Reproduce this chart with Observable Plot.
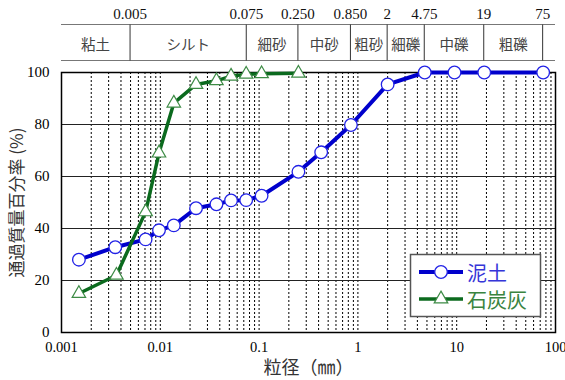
<!DOCTYPE html>
<html><head><meta charset="utf-8">
<script src="https://cdn.jsdelivr.net/npm/d3@7"></script>
<script src="https://cdn.jsdelivr.net/npm/@observablehq/plot@0.6"></script>
<style>body{margin:0;background:#fff}</style>
</head><body><div id="chart"></div>
<script>
// ---- data ----
const seriesNames = ["泥土", "石炭灰"];
const clayX = [0.0015, 0.0035, 0.0071, 0.0097, 0.0137, 0.023, 0.037, 0.052, 0.074, 0.106, 0.25, 0.425, 0.85, 2, 4.75, 9.5, 19, 75];
const clayY = [28, 32.8, 35.8, 39.3, 41.2, 47.8, 49.3, 50.8, 50.9, 52.6, 61.8, 69.3, 79.8, 95.4, 100, 100, 100, 100];
const ashX = [0.0015, 0.0036, 0.0071, 0.0097, 0.0137, 0.023, 0.037, 0.052, 0.074, 0.106, 0.25];
const ashY = [15, 22, 46.4, 69, 88.2, 95.4, 96.8, 98.6, 99.3, 99.5, 99.7];
const zoneBounds = [0.005, 0.075, 0.25, 0.85, 2, 4.75, 19, 75];
const zoneBoundLabels = ["0.005", "0.075", "0.250", "0.850", "2", "4.75", "19", "75"];
const zoneNames = ["粘土", "シルト", "細砂", "中砂", "粗砂", "細礫", "中礫", "粗礫"];
const xTicks = [0.001, 0.01, 0.1, 1, 10, 100];
const xTickLabels = ["0.001", "0.01", "0.1", "1", "10", "100"];
const yTicks = [0, 20, 40, 60, 80, 100];
const xTitle = "粒径（㎜）";
const yTitle = "通過質量百分率 (%)";

// ---- derived ----
const clay = clayX.map((x, i) => ({x, y: clayY[i]}));
const ash = ashX.map((x, i) => ({x, y: ashY[i]}));
const minor = [];
for (let e = -3; e <= 1; e++) for (let k = 1; k <= 9; k++) {
  if (e === -3 && k === 1) continue;
  minor.push(+(k * Math.pow(10, e)).toPrecision(3));
}
const serif = "'Liberation Serif', 'Times New Roman', serif";
const cjk = "'Noto Sans CJK JP', sans-serif";
const blue = "#0000cc", blueMark = "#2222e6", blueText = "#3535d8";
const green = "#0b6a1e", greenMark = "#3d8b45", greenText = "#3a843f";

const header = (index, scales, values, dims) => {
  const g = d3.create("svg:g");
  const x0 = dims.marginLeft, x1 = dims.width - dims.marginRight;
  const yTop = 24.5, yBot = 60.5;
  g.append("line").attr("x1", x0).attr("x2", x1).attr("y1", yTop).attr("y2", yTop).attr("stroke", "#777").attr("stroke-width", 1.2);
  g.append("line").attr("x1", x0).attr("x2", x1).attr("y1", yBot).attr("y2", yBot).attr("stroke", "#777").attr("stroke-width", 1.2);
  const bx = zoneBounds.map(v => scales.x(v));
  bx.forEach((px, i) => {
    g.append("line").attr("x1", px).attr("x2", px).attr("y1", yTop).attr("y2", yBot).attr("stroke", "#333").attr("stroke-width", 1);
    g.append("text").attr("x", px).attr("y", 14).attr("text-anchor", "middle").attr("dominant-baseline", "central")
      .style("font-family", serif).attr("font-size", 15).attr("fill", "#111").text(zoneBoundLabels[i]);
  });
  const edges = [x0, ...bx];
  zoneNames.forEach((n, i) => {
    g.append("text").attr("x", (edges[i] + edges[i + 1]) / 2).attr("y", 43).attr("text-anchor", "middle")
      .attr("dominant-baseline", "central").style("font-family", cjk).attr("font-size", 14.5).attr("fill", "#444").text(n);
  });
  return g.node();
};

const legend = () => {
  const g = d3.create("svg:g");
  g.append("rect").attr("x", 410.5).attr("y", 254.5).attr("width", 130).attr("height", 62)
    .attr("fill", "#fff").attr("stroke", "#555").attr("stroke-width", 1.5);
  const rows = [
    {name: seriesNames[0], line: blue, mark: blueMark, text: blueText, sym: "circle", y: 272},
    {name: seriesNames[1], line: green, mark: greenMark, text: greenText, sym: "triangle", y: 299}
  ];
  rows.forEach(r => {
    g.append("line").attr("x1", 419).attr("x2", 463).attr("y1", r.y).attr("y2", r.y)
      .attr("stroke", r.line).attr("stroke-width", r.sym === "circle" ? 4 : 3.5);
    if (r.sym === "circle") {
      g.append("circle").attr("cx", 441).attr("cy", r.y).attr("r", 6.3).attr("fill", "#fff").attr("stroke", r.mark).attr("stroke-width", 1.3);
    } else {
      g.append("path").attr("d", d3.symbol(d3.symbolTriangle, 80)()).attr("transform", `translate(441,${r.y})`)
        .attr("fill", "#fff").attr("stroke", r.mark).attr("stroke-width", 1.2);
    }
    g.append("text").attr("x", 467).attr("y", r.y).attr("text-anchor", "start").attr("dominant-baseline", "central")
      .style("font-family", cjk).attr("font-size", 20).attr("fill", r.text).text(r.name);
  });
  return g.node();
};

const chart = Plot.plot({
  width: 565, height: 380,
  marginLeft: 61, marginRight: 10, marginTop: 72, marginBottom: 48,
  style: {fontFamily: serif, fontSize: "15px", color: "#000", background: "#fff", overflow: "visible"},
  x: {type: "log", domain: [0.001, 100]},
  y: {domain: [0, 100]},
  marks: [
    Plot.ruleX(minor, {stroke: "#000", strokeWidth: 1, strokeDasharray: "2,2"}),
    Plot.ruleY([20, 40, 60, 80], {stroke: "#222", strokeWidth: 1}),
    Plot.axisX({ticks: xTicks, tickSize: 0, tickPadding: 9, fontSize: 14.5, label: null, fontFamily: serif,
      tickFormat: d => xTickLabels[xTicks.indexOf(d)]}),
    Plot.axisY({ticks: yTicks, tickSize: 0, tickPadding: 12, fontSize: 15, label: null, fontFamily: serif}),
    Plot.frame({stroke: "#000", strokeWidth: 1.5}),
    Plot.line(clay, {x: "x", y: "y", stroke: blue, strokeWidth: 4}),
    Plot.dot(clay, {x: "x", y: "y", r: 6.3, fill: "#fff", stroke: blueMark, strokeWidth: 1.3}),
    Plot.line(ash, {x: "x", y: "y", stroke: green, strokeWidth: 3.5}),
    Plot.dot(ash, {x: "x", y: "y", symbol: "triangle", r: 5, fill: "#fff", stroke: greenMark, strokeWidth: 1.2}),
    Plot.text([xTitle], {frameAnchor: "bottom", lineAnchor: "middle", textAnchor: "middle", dy: 36, fontFamily: cjk, fontSize: 18, fill: "#333"}),
    Plot.text([yTitle], {frameAnchor: "left", lineAnchor: "middle", textAnchor: "middle", dx: -44, rotate: -90, fontFamily: cjk, fontSize: 17, fill: "#333"}),
    header,
    legend
  ]
});
document.getElementById("chart").appendChild(chart);
</script>
</body></html>
